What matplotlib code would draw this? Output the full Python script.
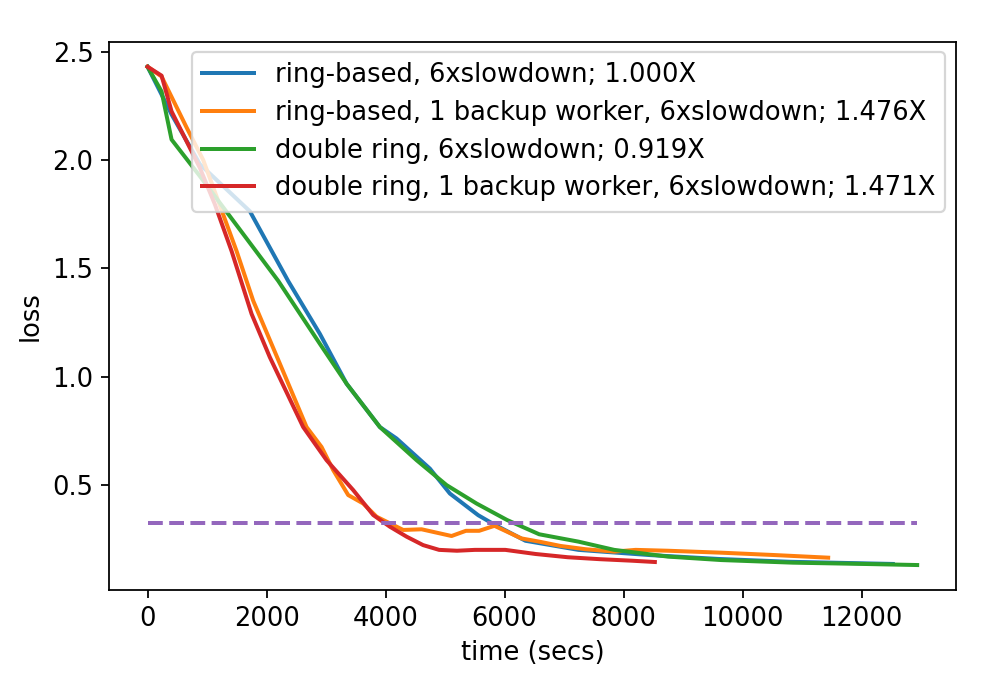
import matplotlib

matplotlib.use('Agg')
import matplotlib.pyplot as plt

# ring-based, 6xslowdown
ring_t = [0, 403, 879, 1719, 2363, 2896, 3345, 3904, 4185, 4745, 5081, 5557, 5808, 6351, 7242, 8442, 9600, 10800, 12526]
ring_loss = [2.43, 2.21, 1.98, 1.763, 1.441, 1.197, 0.967, 0.767, 0.714, 0.575, 0.46, 0.36, 0.32, 0.242, 0.2, 0.176, 0.158, 0.145, 0.135]

# ring-based, 1 backup worker
ringb_t = [0, 235, 655, 934, 1496, 1775, 2224, 2672, 2924, 3120, 3372, 3624, 3849, 4296, 4605, 5109, 5350, 5573, 5830, 6041,
           6281, 6582, 6942, 7361, 7842, 8202, 8743, 9642, 10543, 11439]
ringb_loss = [2.43, 2.385, 2.15, 2.0, 1.579, 1.35, 1.059, 0.767, 0.675, 0.568, 0.453, 0.414, 0.353, 0.292, 0.295, 0.264,
              0.288, 0.288, 0.311, 0.284, 0.253, 0.238, 0.218, 0.203, 0.192, 0.2, 0.196, 0.187, 0.176, 0.164]

# double ring, 6xslowdown
dring_t = [0, 235, 403, 879, 2195, 2896, 3345, 3904, 4521, 5025, 5529, 6041, 6582, 7242, 7842, 8743, 9642, 10843, 12044, 12935]
dring_loss = [2.43, 2.316, 2.094, 1.925, 1.442, 1.151, 0.967, 0.767, 0.614, 0.499, 0.414, 0.338, 0.272, 0.238, 0.2, 0.169,
              0.153, 0.141, 0.135, 0.130]

# double ring, 1 backup worker
dringb_t = [0, 235, 403, 655, 879, 1131, 1412, 1748, 2055, 2615, 3008, 3456, 3792, 4072, 4353, 4631, 4900, 5200, 5501, 6012,
            6521, 7062, 7602, 8141, 8526]
dringb_loss = [2.43, 2.389, 2.224, 2.086, 1.963, 1.795, 1.579, 1.289, 1.089, 0.767, 0.614, 0.476, 0.361, 0.307, 0.261,
               0.222, 0.2, 0.196, 0.2, 0.2, 0.181, 0.166, 0.157, 0.150, 0.144]

target_loss = 0.322
target_t = [0, 12935]

plt.rcParams['font.size'] = 11.6
plt.rcParams['lines.linewidth'] = 1.8

fig = plt.figure(figsize=(1001 / 160, 675 / 160), dpi=160)
ax = fig.add_axes([0.109, 0.126, 0.8457, 0.812])

ax.plot(ring_t, ring_loss, color='tab:blue', label='ring-based, 6xslowdown; 1.000X')
ax.plot(ringb_t, ringb_loss, color='tab:orange', label='ring-based, 1 backup worker, 6xslowdown; 1.476X')
ax.plot(dring_t, dring_loss, color='tab:green', label='double ring, 6xslowdown; 0.919X')
ax.plot(dringb_t, dringb_loss, color='tab:red', label='double ring, 1 backup worker, 6xslowdown; 1.471X')
ax.plot(target_t, [target_loss, target_loss], '--', color='tab:purple')

ax.set_xlabel('time (secs)')
ax.set_ylabel('loss')
ax.legend(loc='upper right', labelspacing=0.45, borderaxespad=0.4)

fig.savefig('out.png', dpi=160)
